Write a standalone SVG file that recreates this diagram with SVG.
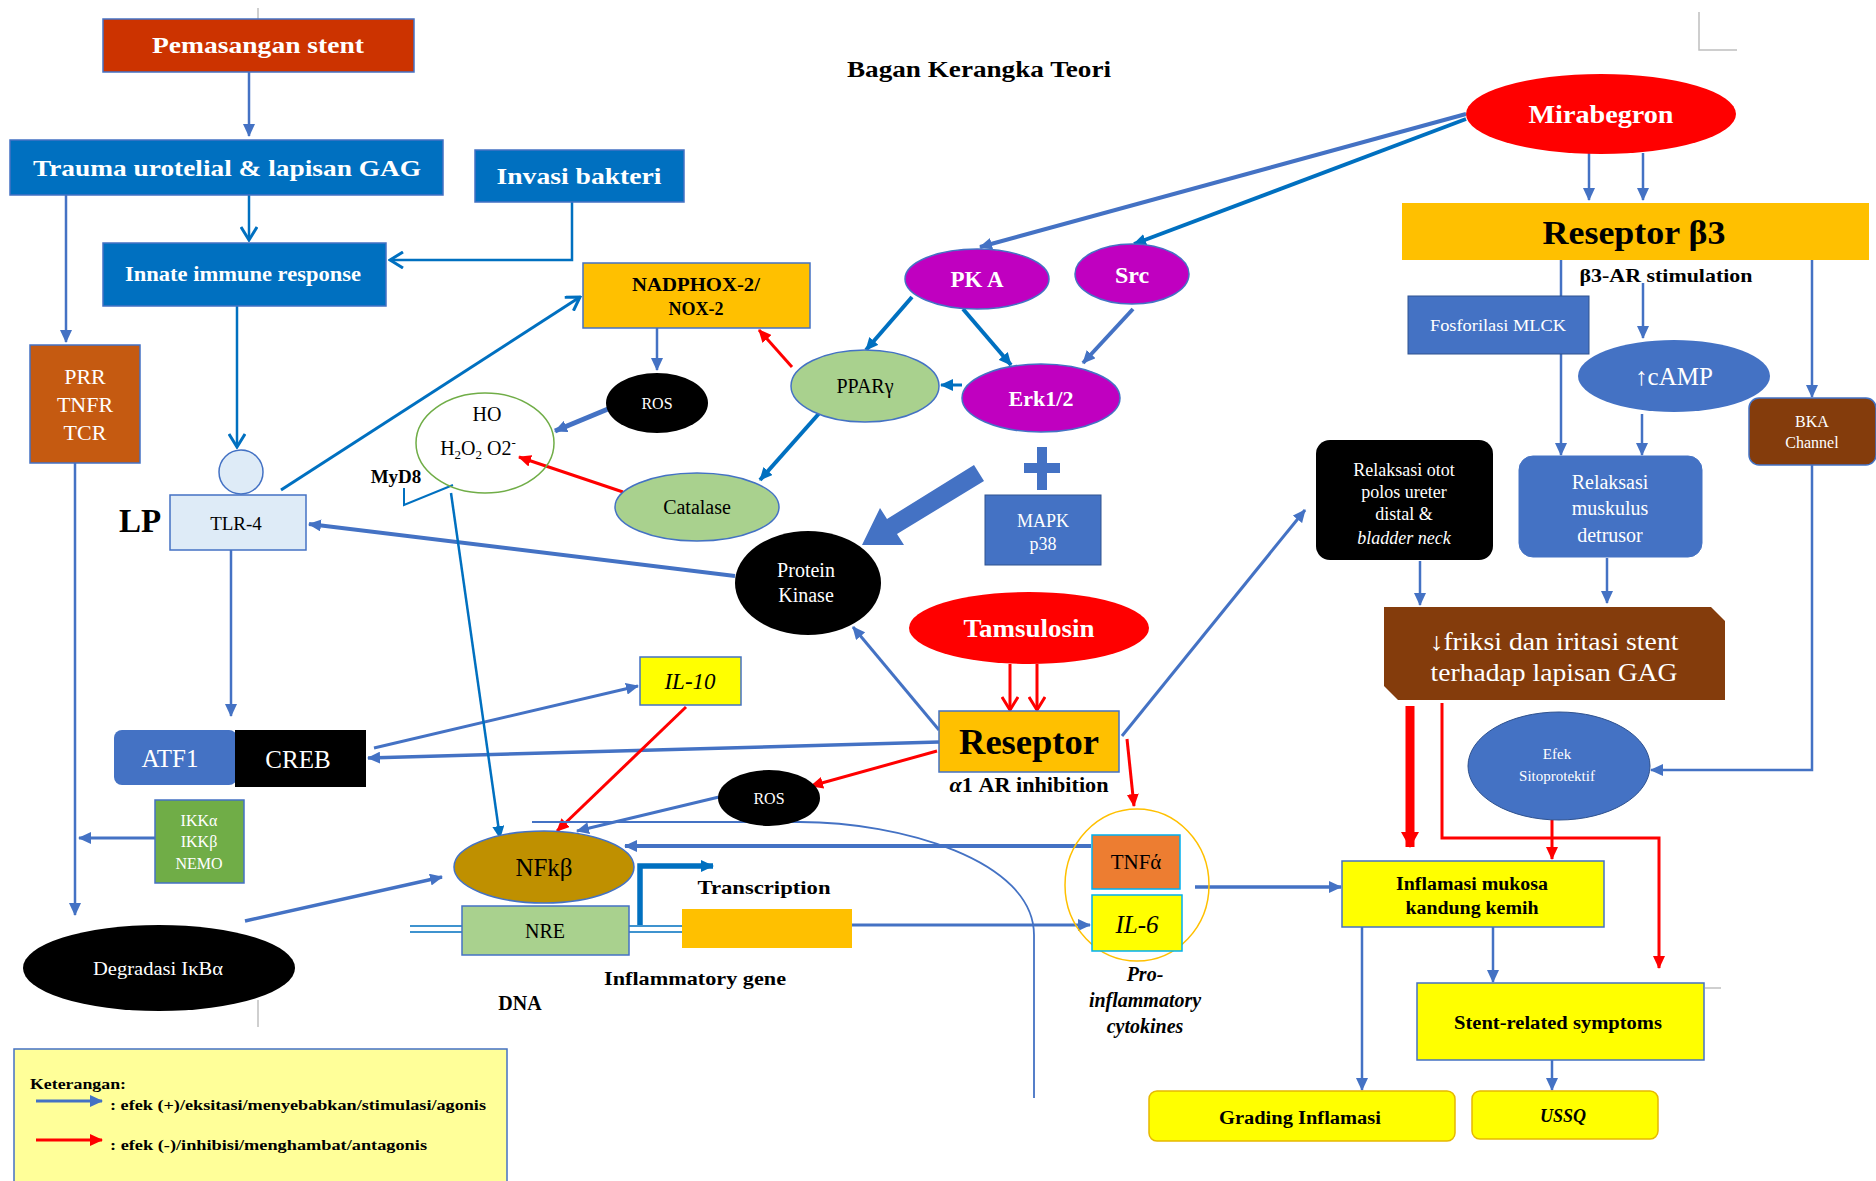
<svg xmlns="http://www.w3.org/2000/svg" width="1876" height="1181" viewBox="0 0 1876 1181">
<style>
text{font-family:"Liberation Serif","Times New Roman",serif;text-anchor:middle}
.w{fill:#fff}.k{fill:#000}.b{font-weight:bold}.i{font-style:italic}
.cb{fill:none;stroke:#4472C4}.cd{fill:none;stroke:#0070C0}.cr{fill:none;stroke:#FF0000}
.gray{fill:none;stroke:#BFBFBF;stroke-width:1.5}
</style>
<defs>
<marker id="fb" markerUnits="userSpaceOnUse" markerWidth="13" markerHeight="12" refX="12" refY="6" orient="auto"><path d="M0,0 L13,6 L0,12 z" fill="#4472C4"/></marker>
<marker id="fd" markerUnits="userSpaceOnUse" markerWidth="13" markerHeight="12" refX="12" refY="6" orient="auto"><path d="M0,0 L13,6 L0,12 z" fill="#0070C0"/></marker>
<marker id="fr" markerUnits="userSpaceOnUse" markerWidth="13" markerHeight="12" refX="12" refY="6" orient="auto"><path d="M0,0 L13,6 L0,12 z" fill="#FF0000"/></marker>
<marker id="frb" markerUnits="userSpaceOnUse" markerWidth="16" markerHeight="18" refX="15" refY="9" orient="auto"><path d="M0,0 L16,9 L0,18 z" fill="#FF0000"/></marker>
<marker id="vd" markerUnits="userSpaceOnUse" markerWidth="16" markerHeight="18" refX="14" refY="9" orient="auto"><path d="M1,1 L14,9 L1,17" fill="none" stroke="#0070C0" stroke-width="3"/></marker>
<marker id="vr" markerUnits="userSpaceOnUse" markerWidth="16" markerHeight="18" refX="14" refY="9" orient="auto"><path d="M1,1 L14,9 L1,17" fill="none" stroke="#FF0000" stroke-width="3"/></marker>
</defs>
<rect width="1876" height="1181" fill="#fff"/>

<text x="979" y="77" class="b" font-size="23" textLength="264" lengthAdjust="spacingAndGlyphs">Bagan Kerangka Teori</text>
<path class="gray" d="M1699,12 V50 H1737"/>
<path class="gray" d="M258,8 V19"/>
<path class="gray" d="M258,1000 V1027"/>
<path class="gray" d="M1705,988 H1721"/>

<g id="connectors">
<path class="cb" stroke-width="2.5" d="M249,72 V136" marker-end="url(#fb)"/>
<path class="cd" stroke-width="2.5" d="M249,195 V240" marker-end="url(#vd)"/>
<path class="cd" stroke-width="2.5" d="M572,202 V260 H390" marker-end="url(#vd)"/>
<path class="cb" stroke-width="2.5" d="M66,195 V342" marker-end="url(#fb)"/>
<path class="cd" stroke-width="2.5" d="M237,306 V447" marker-end="url(#vd)"/>
<path class="cb" stroke-width="2.5" d="M75,463 V915" marker-end="url(#fb)"/>
<path class="cb" stroke-width="3" d="M155,838 H79" marker-end="url(#fb)"/>
<path class="cb" stroke-width="2.5" d="M231,550 V716" marker-end="url(#fb)"/>
<path class="cd" stroke-width="3" d="M281,490 L580,297" marker-end="url(#vd)"/>
<path class="cb" stroke-width="2.5" d="M657,328 V370" marker-end="url(#fb)"/>
<path class="cb" stroke-width="5" d="M608,409 L555,431" marker-end="url(#fb)"/>
<path class="cr" stroke-width="3" d="M623,492 L519,457" marker-end="url(#fr)"/>
<path class="cr" stroke-width="3" d="M792,367 L759,330" marker-end="url(#fr)"/>
<path class="cd" stroke-width="4" d="M823,409 L760,480" marker-end="url(#fd)"/>
<path class="cd" stroke-width="4" d="M912,297 L866,350" marker-end="url(#fd)"/>
<path class="cd" stroke-width="4" d="M963,309 L1011,365" marker-end="url(#fd)"/>
<path class="cb" stroke-width="4" d="M1133,309 L1083,363" marker-end="url(#fb)"/>
<path class="cd" stroke-width="3" d="M962,385 H941" marker-end="url(#fd)"/>
<path class="cb" stroke-width="4" d="M1466,114 L980,247" marker-end="url(#fb)"/>
<path class="cd" stroke-width="4" d="M1466,119 L1134,244" marker-end="url(#fd)"/>
<path class="cb" stroke-width="2.5" d="M1589,153 V200" marker-end="url(#fb)"/>
<path class="cb" stroke-width="2.5" d="M1643,153 V200" marker-end="url(#fb)"/>
<path class="cb" stroke-width="2.5" d="M1561,260 V455" marker-end="url(#fb)"/>
<path class="cb" stroke-width="2.5" d="M1643,283 V338" marker-end="url(#fb)"/>
<path class="cb" stroke-width="2.5" d="M1812,260 V397" marker-end="url(#fb)"/>
<path class="cb" stroke-width="2.5" d="M1642,414 V455" marker-end="url(#fb)"/>
<path class="cb" stroke-width="2.5" d="M1420,561 V605" marker-end="url(#fb)"/>
<path class="cb" stroke-width="2.5" d="M1607,558 V603" marker-end="url(#fb)"/>
<path class="cb" stroke-width="2.5" d="M1812,465 V770 H1651" marker-end="url(#fb)"/>
<path class="cr" stroke-width="9" d="M1410,706 V847" marker-end="url(#frb)"/>
<path class="cr" stroke-width="3" d="M1442,703 V838 H1659 V968" marker-end="url(#fr)"/>
<path class="cr" stroke-width="3" d="M1552,820 V859" marker-end="url(#fr)"/>
<path class="cb" stroke-width="2.5" d="M1362,927 V1090" marker-end="url(#fb)"/>
<path class="cb" stroke-width="2.5" d="M1493,927 V982" marker-end="url(#fb)"/>
<path class="cb" stroke-width="2.5" d="M1552,1060 V1090" marker-end="url(#fb)"/>
<path class="cr" stroke-width="3" d="M1010,664 V710" marker-end="url(#vr)"/>
<path class="cr" stroke-width="3" d="M1037,664 V710" marker-end="url(#vr)"/>
<path class="cb" stroke-width="3" d="M939,730 L853,627" marker-end="url(#fb)"/>
<path class="cb" stroke-width="3" d="M1122,736 L1305,510" marker-end="url(#fb)"/>
<path class="cb" stroke-width="3.5" d="M939,742 L368,758" marker-end="url(#fb)"/>
<path class="cr" stroke-width="3" d="M937,751 L811,786" marker-end="url(#fr)"/>
<path class="cr" stroke-width="3" d="M1127,739 L1134,806" marker-end="url(#fr)"/>
<path class="cb" stroke-width="4" d="M735,576 L309,524" marker-end="url(#fb)"/>
<path class="cb" stroke-width="3" d="M374,748 L638,686" marker-end="url(#fb)"/>
<path class="cr" stroke-width="3" d="M686,707 L557,831" marker-end="url(#fr)"/>
<path class="cb" stroke-width="3" d="M719,797 L577,831" marker-end="url(#fb)"/>
<path class="cd" stroke-width="2.5" d="M451,493 L500,838" marker-end="url(#fd)"/>
<path class="cb" stroke-width="3.5" d="M245,921 L442,877" marker-end="url(#fb)"/>
<path class="cb" stroke-width="4" d="M1091,846 H625" marker-end="url(#fb)"/>
<path class="cb" stroke-width="3" d="M852,925 H1090" marker-end="url(#fb)"/>
<path class="cb" stroke-width="3.5" d="M1195,887 H1341" marker-end="url(#fb)"/>
<path class="cd" stroke-width="5.5" d="M640,925 V866 H713" marker-end="url(#fd)"/>
<path class="cd" stroke-width="1.5" d="M410,926 H462 M410,932 H462 M629,926 H682 M629,932 H682"/>
<path class="cb" stroke-width="1.8" d="M532,822 H800 C900,822 1034,860 1034,935 V1098"/>
<polygon fill="#4472C4" points="974,465 887,519 880,508 862,545 904,545 897,534 984,481"/>
<rect x="1037" y="447" width="10" height="43" fill="#4472C4"/>
<rect x="1024" y="463" width="36" height="10" fill="#4472C4"/>
</g>

<g id="pemasangan"><rect x="103" y="19" width="311" height="53" fill="#CC3300" stroke="#4472C4" stroke-width="1.5"/><text x="258" y="53" class="w b" font-size="24" textLength="212" lengthAdjust="spacingAndGlyphs">Pemasangan stent</text></g>
<g id="trauma"><rect x="10" y="140" width="433" height="55" fill="#0070C0" stroke="#4472C4" stroke-width="1.5"/><text x="227" y="176" class="w b" font-size="24" textLength="388" lengthAdjust="spacingAndGlyphs">Trauma urotelial &amp; lapisan GAG</text></g>
<g id="invasi"><rect x="475" y="150" width="209" height="52" fill="#0070C0" stroke="#4472C4" stroke-width="1.5"/><text x="579" y="184" class="w b" font-size="24" textLength="165" lengthAdjust="spacingAndGlyphs">Invasi bakteri</text></g>
<g id="innate"><rect x="103" y="243" width="283" height="63" fill="#0070C0" stroke="#4472C4" stroke-width="1.5"/><text x="243" y="281" class="w b" font-size="20" textLength="236" lengthAdjust="spacingAndGlyphs">Innate immune response</text></g>
<g id="prr"><rect x="30" y="345" width="110" height="118" fill="#C55A11" stroke="#4472C4" stroke-width="1.5"/><text x="85" y="384" class="w" font-size="22">PRR</text><text x="85" y="412" class="w" font-size="22">TNFR</text><text x="85" y="440" class="w" font-size="22">TCR</text></g>
<g id="tlr4"><ellipse cx="241" cy="472" rx="22" ry="22" fill="#DEEBF7" stroke="#4472C4" stroke-width="1.5"/><rect x="170" y="495" width="136" height="55" fill="#DEEBF7" stroke="#4472C4" stroke-width="1.5"/><text x="236" y="530" class="k" font-size="19">TLR-4</text><text x="140" y="532" class="k b" font-size="33">LP</text></g>
<g id="myd8"><text x="396" y="483" class="k b" font-size="19">MyD8</text><path d="M404,488 V505 L453,485" class="cd" stroke-width="2"/></g>
<g id="ho"><ellipse cx="485" cy="443" rx="69" ry="50" fill="none" stroke="#70AD47" stroke-width="1.5"/><text x="487" y="421" class="k" font-size="20">HO</text><text x="478" y="455" class="k" font-size="20">H<tspan font-size="13" dy="4">2</tspan><tspan dy="-4">O</tspan><tspan font-size="13" dy="4">2</tspan><tspan dy="-4"> O2</tspan><tspan font-size="13" dy="-8">-</tspan></text></g>
<g id="nadph"><rect x="583" y="263" width="227" height="65" fill="#FFC000" stroke="#4472C4" stroke-width="1.5"/><text x="696" y="291" class="k b" font-size="18" textLength="128" lengthAdjust="spacingAndGlyphs">NADPHOX-2/</text><text x="696" y="315" class="k b" font-size="18">NOX-2</text></g>
<g id="ros1"><ellipse cx="657" cy="403" rx="51" ry="30" fill="#000"/><text x="657" y="409" class="w" font-size="16">ROS</text></g>
<g id="ppar"><ellipse cx="865" cy="386" rx="74" ry="36" fill="#A9D18E" stroke="#4472C4" stroke-width="1.5"/><text x="865" y="393" class="k" font-size="20">PPARγ</text></g>
<g id="catalase"><ellipse cx="697" cy="507" rx="82" ry="34" fill="#A9D18E" stroke="#4472C4" stroke-width="1.5"/><text x="697" y="514" class="k" font-size="20">Catalase</text></g>
<g id="pka"><ellipse cx="977" cy="279" rx="72" ry="30" fill="#C000C0" stroke="#4472C4" stroke-width="1.5"/><text x="977" y="287" class="w b" font-size="23">PK A</text></g>
<g id="src"><ellipse cx="1132" cy="274" rx="57" ry="30" fill="#C000C0" stroke="#4472C4" stroke-width="1.5"/><text x="1132" y="283" class="w b" font-size="24">Src</text></g>
<g id="erk"><ellipse cx="1041" cy="398" rx="79" ry="34" fill="#C000C0" stroke="#4472C4" stroke-width="1.5"/><text x="1041" y="406" class="w b" font-size="22">Erk1/2</text></g>
<g id="mapk"><rect x="985" y="495" width="116" height="70" fill="#4472C4" stroke="#2F528F" stroke-width="1"/><text x="1043" y="527" class="w" font-size="18">MAPK</text><text x="1043" y="550" class="w" font-size="18">p38</text></g>
<g id="proteinkinase"><ellipse cx="808" cy="583" rx="73" ry="52" fill="#000"/><text x="806" y="577" class="w" font-size="20">Protein</text><text x="806" y="602" class="w" font-size="20">Kinase</text></g>
<g id="mirabegron"><ellipse cx="1601" cy="114" rx="135" ry="40" fill="#FF0000"/><text x="1601" y="123" class="w b" font-size="25" textLength="145" lengthAdjust="spacingAndGlyphs">Mirabegron</text></g>
<g id="reseptorb3"><rect x="1402" y="203" width="467" height="57" fill="#FFC000"/><text x="1634" y="244" class="k b" font-size="34" textLength="183" lengthAdjust="spacingAndGlyphs">Reseptor β3</text><text x="1666" y="282" class="k b" font-size="19" textLength="173" lengthAdjust="spacingAndGlyphs">β3-AR stimulation</text></g>
<g id="fosforilasi"><rect x="1408" y="296" width="181" height="58" fill="#4472C4" stroke="#2F528F" stroke-width="1"/><text x="1498" y="331" class="w" font-size="16" textLength="136" lengthAdjust="spacingAndGlyphs">Fosforilasi MLCK</text></g>
<g id="camp"><ellipse cx="1674" cy="376" rx="96" ry="36" fill="#4472C4"/><text x="1674" y="385" class="w" font-size="25">↑cAMP</text></g>
<g id="bka"><rect x="1749" y="398" width="127" height="67" rx="10" fill="#843C0C" stroke="#4472C4" stroke-width="1.5"/><text x="1812" y="427" class="w" font-size="16">BKA</text><text x="1812" y="448" class="w" font-size="16">Channel</text></g>
<g id="relaksasiotot"><rect x="1316" y="440" width="177" height="120" rx="14" fill="#000"/><text x="1404" y="476" class="w" font-size="18">Relaksasi otot</text><text x="1404" y="498" class="w" font-size="18">polos ureter</text><text x="1404" y="520" class="w" font-size="18">distal &amp;</text><text x="1404" y="544" class="w i" font-size="18">bladder neck</text></g>
<g id="relaksasimuskulus"><rect x="1519" y="456" width="183" height="101" rx="14" fill="#4472C4" stroke="#4472C4"/><text x="1610" y="489" class="w" font-size="20">Relaksasi</text><text x="1610" y="515" class="w" font-size="20">muskulus</text><text x="1610" y="542" class="w" font-size="20">detrusor</text></g>
<g id="friksi"><path d="M1384,607 H1711 L1725,621 V700 H1398 L1384,686 Z" fill="#843C0C"/><text x="1554" y="650" class="w" font-size="25" textLength="249" lengthAdjust="spacingAndGlyphs">↓friksi dan iritasi stent</text><text x="1554" y="681" class="w" font-size="25" textLength="247" lengthAdjust="spacingAndGlyphs">terhadap lapisan GAG</text></g>
<g id="efek"><ellipse cx="1559" cy="766" rx="91" ry="54" fill="#4472C4" stroke="#2F528F" stroke-width="1"/><text x="1557" y="759" class="w" font-size="15">Efek</text><text x="1557" y="781" class="w" font-size="15">Sitoprotektif</text></g>
<g id="inflamasi"><rect x="1342" y="861" width="262" height="66" fill="#FFFF00" stroke="#4472C4" stroke-width="1.5"/><text x="1472" y="890" class="k b" font-size="18" textLength="152" lengthAdjust="spacingAndGlyphs">Inflamasi mukosa</text><text x="1472" y="914" class="k b" font-size="18" textLength="133" lengthAdjust="spacingAndGlyphs">kandung kemih</text></g>
<g id="stentrelated"><rect x="1417" y="983" width="287" height="77" fill="#FFFF00" stroke="#4472C4" stroke-width="1.5"/><text x="1558" y="1029" class="k b" font-size="18" textLength="208" lengthAdjust="spacingAndGlyphs">Stent-related symptoms</text></g>
<g id="grading"><rect x="1149" y="1091" width="306" height="50" rx="8" fill="#FFFF00" stroke="#E6B800" stroke-width="1.5"/><text x="1300" y="1124" class="k b" font-size="18" textLength="162" lengthAdjust="spacingAndGlyphs">Grading Inflamasi</text></g>
<g id="ussq"><rect x="1472" y="1091" width="186" height="48" rx="8" fill="#FFFF00" stroke="#E6B800" stroke-width="1.5"/><text x="1563" y="1122" class="k b i" font-size="18">USSQ</text></g>
<g id="tamsulosin"><ellipse cx="1029" cy="628" rx="120" ry="36" fill="#FF0000"/><text x="1029" y="637" class="w b" font-size="25" textLength="131" lengthAdjust="spacingAndGlyphs">Tamsulosin</text></g>
<g id="reseptor"><rect x="939" y="711" width="180" height="61" fill="#FFC000" stroke="#4472C4" stroke-width="1.5"/><text x="1029" y="754" class="k b" font-size="36" textLength="140" lengthAdjust="spacingAndGlyphs">Reseptor</text><text x="1029" y="792" class="k b" font-size="20" textLength="159" lengthAdjust="spacingAndGlyphs"><tspan class="i">α</tspan>1 AR inhibition</text></g>
<g id="il10"><rect x="640" y="657" width="101" height="48" fill="#FFFF00" stroke="#4472C4" stroke-width="1.5"/><text x="690" y="689" class="k i" font-size="23">IL-10</text></g>
<g id="atf1creb"><rect x="114" y="730" width="123" height="55" rx="8" fill="#4472C4"/><text x="170" y="767" class="w" font-size="25">ATF1</text><rect x="235" y="730" width="131" height="57" fill="#000"/><text x="298" y="768" class="w" font-size="25">CREB</text></g>
<g id="ikk"><rect x="155" y="800" width="89" height="83" fill="#70AD47" stroke="#4472C4" stroke-width="1.5"/><text x="199" y="826" class="w" font-size="16">IKKα</text><text x="199" y="847" class="w" font-size="16">IKKβ</text><text x="199" y="869" class="w" font-size="16">NEMO</text></g>
<g id="degradasi"><ellipse cx="159" cy="968" rx="136" ry="43" fill="#000"/><text x="158" y="975" class="w" font-size="18" textLength="130" lengthAdjust="spacingAndGlyphs">Degradasi IκBα</text></g>
<g id="nfkb"><ellipse cx="544" cy="867" rx="90" ry="36" fill="#BF9000" stroke="#4472C4" stroke-width="1.5"/><text x="544" y="876" class="k" font-size="25">NFkβ</text></g>
<g id="nre"><rect x="462" y="906" width="167" height="49" fill="#A9D18E" stroke="#4472C4" stroke-width="1.5"/><text x="545" y="938" class="k" font-size="20">NRE</text></g>
<g id="inflammatorygene"><rect x="682" y="909" width="170" height="39" fill="#FFC000"/><text x="764" y="894" class="k b" font-size="19" textLength="133" lengthAdjust="spacingAndGlyphs">Transcription</text><text x="695" y="985" class="k b" font-size="19" textLength="182" lengthAdjust="spacingAndGlyphs">Inflammatory gene</text><text x="520" y="1010" class="k b" font-size="20">DNA</text></g>
<g id="ros2"><ellipse cx="769" cy="798" rx="51" ry="28" fill="#000"/><text x="769" y="804" class="w" font-size="16">ROS</text></g>
<g id="cytokines"><ellipse cx="1137" cy="885" rx="72" ry="76" fill="none" stroke="#FFC000" stroke-width="1.5"/><rect x="1092" y="835" width="88" height="54" fill="#ED7D31" stroke="#00B0F0" stroke-width="1.5"/><text x="1136" y="869" class="k" font-size="21">TNFά</text><rect x="1092" y="895" width="90" height="56" fill="#FFFF00" stroke="#00B0F0" stroke-width="1.5"/><text x="1137" y="933" class="k i" font-size="25">IL-6</text><text x="1145" y="981" class="k i b" font-size="20">Pro-</text><text x="1145" y="1007" class="k i b" font-size="20">inflammatory</text><text x="1145" y="1033" class="k i b" font-size="20">cytokines</text></g>
<g id="legend"><rect x="14" y="1049" width="493" height="140" fill="#FFFF99" stroke="#4472C4" stroke-width="1.5"/><text x="30" y="1089" class="k b" font-size="15" style="text-anchor:start" textLength="96" lengthAdjust="spacingAndGlyphs">Keterangan:</text><path class="cb" stroke-width="3" d="M36,1101 H102" marker-end="url(#fb)"/><text x="110" y="1110" class="k b" font-size="15" style="text-anchor:start" textLength="376" lengthAdjust="spacingAndGlyphs">: efek (+)/eksitasi/menyebabkan/stimulasi/agonis</text><path class="cr" stroke-width="3" d="M36,1140 H102" marker-end="url(#fr)"/><text x="110" y="1150" class="k b" font-size="15" style="text-anchor:start" textLength="317" lengthAdjust="spacingAndGlyphs">: efek (-)/inhibisi/menghambat/antagonis</text></g>
</svg>
